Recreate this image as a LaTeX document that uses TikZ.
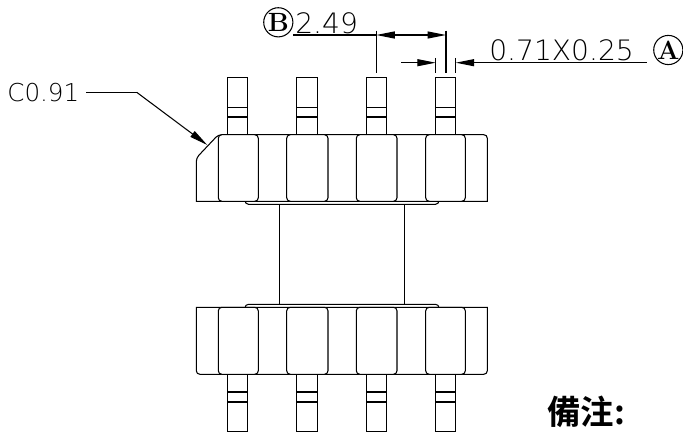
\documentclass[tikz,border=0pt]{standalone}
\usepackage{fontspec}
\newfontfamily\cadfont{DejaVu Sans ExtraLight}
\newfontfamily\cjkfont{Noto Sans CJK TC Bold}
\usetikzlibrary{arrows.meta}
\tikzstyle{outline}=[line width=0.6pt,black]
\tikzstyle{window}=[outline,rounded corners=2pt]
\tikzstyle{dimline}=[line width=0.6pt,-{Triangle[length=10.5pt,width=4pt]}]
\tikzstyle{dimboth}=[line width=0.6pt,{Triangle[length=10.5pt,width=4pt]}-{Triangle[length=10.5pt,width=4pt]}]
\tikzstyle{plain} = [line width=0.6pt]
\tikzstyle{dimtext} = [font=\cadfont\fontsize{16pt}{16pt}\selectfont,inner sep=0pt,anchor=base west]
\tikzstyle{datum} = [circle,draw,line width=0.6pt,minimum size=16.6pt,inner sep=0pt,font=\bfseries\fontsize{15pt}{15pt}\selectfont]

\begin{document}
\begin{tikzpicture}[x=0.02cm,y=-0.02cm]
	\useasboundingbox (0,0) rectangle (683,432);

	% First we draw the pins
	\foreach \xa/\xb in {227.7/247.7, 296.7/317.3, 366.3/386.3, 435.7/455.7}{
		\draw[outline] (\xa,134.7) -- (\xa,77.3) -- (\xb,77.3) -- (\xb,134.7);
		\draw[outline] (\xa,107.3) -- (\xb,107.3) (\xa,117) -- (\xb,117);
		\draw[outline] (\xa,374.3) -- (\xa,431.3) -- (\xb,431.3) -- (\xb,374.3);
		\draw[outline] (\xa,392) -- (\xb,392) (\xa,402) -- (\xb,402);
	}

	% Then the two flanges and the core
	\draw[outline] (196.3,201.3) [rounded corners=2pt] -- (196.3,158) -- (218.3,134.7) -- (487.3,134.7) [sharp corners] -- (487.3,201.3) -- cycle;
	\draw[outline] (196.3,307.3) [rounded corners=2pt] -- (196.3,374.3) -- (487.3,374.3) [sharp corners] -- (487.3,307.3) -- cycle;
	\draw[window] (245,200.5) -- (245,204.3) -- (439,204.3) -- (439,200.5);
	\draw[window] (245,308) -- (245,304.3) -- (439,304.3) -- (439,308);
	\draw[outline] (279.3,204.3) -- (279.3,304.3) (404.7,204.3) -- (404.7,304.3);

	% Windows of both flanges
	\foreach \xa/\xb in {218.3/258.3, 286.7/328, 356.3/397, 425.7/465.3}{
		\draw[window,fill=white] (\xa,134.7) rectangle (\xb,201.3);
		\draw[window,fill=white] (\xa,307.3) rectangle (\xb,374.3);
	}

	% Anchor points of the dimensions
	\foreach \name/\xa/\ya in {e1t/376.3/30.7, e1b/376.3/73.3, e2t/446/30.7, e2b/446/73.3,
							e3t/435.7/58, e3b/435.7/73.3, e4t/455.7/58, e4b/455.7/73.3,
							d1a/293.3/35, d1l/376.3/35, d1r/446/35,
							d2a/401.3/62.7, d2l/435.7/62.7, d2r/455.7/62.7, d2b/646.7/62.7,
							c1/86/92.3, c2/136.7/92.3, c3/207.3/145}
	\coordinate (\name) at (\xa,\ya);

	% Extension lines
	\foreach \source/\dest in {e1t/e1b, e2t/e2b, e3t/e3b, e4t/e4b}
	\draw[plain] (\source) -- (\dest);

	% Dimension lines with their arrows
	\draw[plain] (d1a) -- (d1l);
	\draw[dimboth] (d1l) -- (d1r);
	\draw[dimline] (d2a) -- (d2l);
	\draw[dimline] (d2b) -- (d2r);
	\draw[dimline] (c2) -- (c3);
	\draw[plain] (c1) -- (c2);

	% Labels
	\node[datum] (datumb) at (278.3,22.3) {B};
	\node[datum] (datuma) at (668.3,50) {A};
	\node[dimtext] (pitch) at (295,33.5) {2.49};
	\node[dimtext] (pinsize) at (489,61) {0.71X0.25};
	\node[dimtext,font=\cadfont\fontsize{14pt}{14pt}\selectfont] (chamfer) at (7,101.5) {C0.91};
	\node[font=\cjkfont\fontsize{19pt}{19pt}\selectfont,inner sep=0pt,anchor=west] (note) at (547,412) {備注:};
\end{tikzpicture}
\end{document}
